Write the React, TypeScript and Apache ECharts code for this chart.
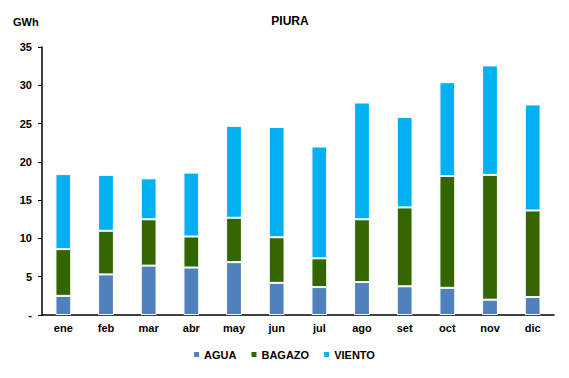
import React, { useEffect, useRef } from "react";
import * as echarts from "echarts";

const categories = ["ene", "feb", "mar", "abr", "may", "jun", "jul", "ago", "set", "oct", "nov", "dic"];
const agua = [2.5, 5.3, 6.45, 6.2, 6.9, 4.2, 3.65, 4.3, 3.75, 3.55, 2.0, 2.35];
const bagazo = [6.1, 5.7, 6.05, 4.05, 5.8, 5.95, 3.75, 8.2, 10.3, 14.6, 16.3, 11.3];
const viento = [9.8, 7.3, 5.35, 8.35, 12.0, 14.4, 14.6, 15.25, 11.8, 12.25, 14.3, 13.85];

const FONT = "Liberation Sans, Arial, sans-serif";

export default function App() {
  const ref = useRef<HTMLDivElement>(null);
  useEffect(() => {
    if (!ref.current) return;
    const chart = echarts.init(ref.current, undefined, { renderer: "svg" });
    const mk = (name: string, data: number[], color: string) => ({
      name,
      type: "bar",
      stack: "total",
      data,
      barWidth: "37%",
      itemStyle: { color, borderColor: "#ffffff", borderWidth: 1 },
    });
    chart.setOption({
      animation: false,
      backgroundColor: "#ffffff",
      textStyle: { fontFamily: FONT },
      title: [
        {
          text: "PIURA",
          left: 285,
          top: 10,
          textAlign: "center",
          textStyle: { fontSize: 12, fontWeight: "bold", color: "#000", fontFamily: FONT },
        },
        {
          text: "GWh",
          left: 8,
          top: 11,
          textStyle: { fontSize: 11, fontWeight: "bold", color: "#000", fontFamily: FONT },
        },
      ],
      legend: {
        bottom: 13,
        left: "center",
        itemWidth: 5,
        itemHeight: 5,
        itemGap: 15,
        icon: "rect",
        itemStyle: { borderWidth: 0 },
        textStyle: { fontSize: 11, fontWeight: "bold", color: "#000", fontFamily: FONT },
        data: ["AGUA", "BAGAZO", "VIENTO"],
      },
      grid: { left: 42, right: 15, top: 47, bottom: 63 },
      xAxis: {
        type: "category",
        data: categories,
        axisLine: { lineStyle: { color: "#000", width: 1.5 } },
        axisTick: { show: false },
        axisLabel: { fontSize: 11, fontWeight: "bold", color: "#000", margin: 7, fontFamily: FONT },
      },
      yAxis: {
        type: "value",
        min: 0,
        max: 35,
        interval: 5,
        splitLine: { show: false },
        axisLine: { show: true, lineStyle: { color: "#000", width: 1.5 } },
        axisTick: { show: true, length: 4, lineStyle: { color: "#000" } },
        axisLabel: {
          fontSize: 11,
          fontWeight: "bold",
          color: "#000",
          margin: 10,
          fontFamily: FONT,
          formatter: (v: number) => (v === 0 ? "-" : String(v)),
        },
      },
      series: [mk("AGUA", agua, "#4F81BD"), mk("BAGAZO", bagazo, "#336600"), mk("VIENTO", viento, "#00B0F0")],
    });
    return () => chart.dispose();
  }, []);
  return <div ref={ref} style={{ width: 569, height: 378, margin: -8 }} />;
}
